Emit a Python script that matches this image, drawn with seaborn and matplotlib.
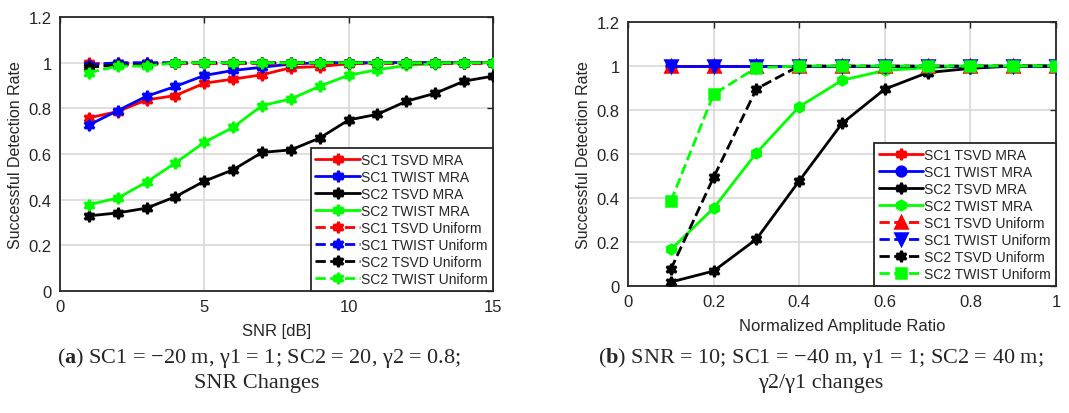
import numpy as np
import pandas as pd
import matplotlib
matplotlib.use("Agg")
import matplotlib.pyplot as plt
import seaborn as sns

sns.set_style("white")
plt.rcParams['font.family'] = ['Liberation Sans', 'DejaVu Sans']
plt.rcParams['mathtext.fontset'] = 'custom'
plt.rcParams['mathtext.rm'] = 'Liberation Serif'
plt.rcParams['mathtext.bf'] = 'Liberation Serif:bold'

# ---------------- Data: panel (a) ----------------
snr_db = [1, 2, 3, 4, 5, 6, 7, 8, 9, 10, 11, 12, 13, 14, 15]
a_sc1_tsvd_mra = [0.758, 0.786, 0.837, 0.856, 0.910, 0.928, 0.947, 0.978, 0.983, 0.995, 1, 1, 1, 1, 1]
a_sc1_twist_mra = [0.727, 0.790, 0.853, 0.896, 0.944, 0.966, 0.980, 0.994, 1, 1, 1, 1, 1, 1, 1]
a_sc2_tsvd_mra = [0.329, 0.342, 0.363, 0.413, 0.481, 0.531, 0.607, 0.618, 0.670, 0.749, 0.774, 0.831, 0.866, 0.919, 0.941]
a_sc2_twist_mra = [0.378, 0.407, 0.477, 0.561, 0.651, 0.717, 0.812, 0.841, 0.897, 0.945, 0.969, 0.988, 0.995, 1, 1]
a_sc1_tsvd_uni = [1.0, 1, 1, 1, 1, 1, 1, 1, 1, 1, 1, 1, 1, 1, 1]
a_sc1_twist_uni = [0.99, 1, 1, 1, 1, 1, 1, 1, 1, 1, 1, 1, 1, 1, 1]
a_sc2_tsvd_uni = [0.98, 0.99, 0.99, 1, 1, 1, 1, 1, 1, 1, 1, 1, 1, 1, 1]
a_sc2_twist_uni = [0.956, 0.985, 0.985, 1, 1, 1, 1, 1, 1, 1, 1, 1, 1, 1, 1]

# ---------------- Data: panel (b) ----------------
amp_ratio = [0.1, 0.2, 0.3, 0.4, 0.5, 0.6, 0.7, 0.8, 0.9, 1.0]
b_sc1_tsvd_mra = [1, 1, 1, 1, 1, 1, 1, 1, 1, 1]
b_sc1_twist_mra = [1, 1, 1, 1, 1, 1, 1, 1, 1, 1]
b_sc2_tsvd_mra = [0.018, 0.068, 0.213, 0.478, 0.739, 0.895, 0.970, 0.989, 1, 1]
b_sc2_twist_mra = [0.166, 0.354, 0.605, 0.815, 0.935, 0.980, 0.992, 1, 1, 1]
b_sc1_tsvd_uni = [1, 1, 1, 1, 1, 1, 1, 1, 1, 1]
b_sc1_twist_uni = [1, 1, 1, 1, 1, 1, 1, 1, 1, 1]
b_sc2_tsvd_uni = [0.076, 0.494, 0.896, 1, 1, 1, 1, 1, 1, 1]
b_sc2_twist_uni = [0.385, 0.872, 0.992, 1, 1, 1, 1, 1, 1, 1]

labels = ["SC1 TSVD MRA", "SC1 TWIST MRA", "SC2 TSVD MRA", "SC2 TWIST MRA",
          "SC1 TSVD Uniform", "SC1 TWIST Uniform", "SC2 TSVD Uniform", "SC2 TWIST Uniform"]

hexagram = (6, 1, 0)
colors = ["#ff0000", "#0000ff", "#000000", "#00ff00"] * 2
styles = ["-"] * 4 + ["--"] * 4
markers_a = [hexagram] * 8
markers_b = [hexagram, "o", hexagram, "h", "^", "v", hexagram, "s"]
msizes_b = [8, 7, 8, 7, 8, 8, 8, 7]

series_a = [a_sc1_tsvd_mra, a_sc1_twist_mra, a_sc2_tsvd_mra, a_sc2_twist_mra,
            a_sc1_tsvd_uni, a_sc1_twist_uni, a_sc2_tsvd_uni, a_sc2_twist_uni]
series_b = [b_sc1_tsvd_mra, b_sc1_twist_mra, b_sc2_tsvd_mra, b_sc2_twist_mra,
            b_sc1_tsvd_uni, b_sc1_twist_uni, b_sc2_tsvd_uni, b_sc2_twist_uni]

fig = plt.figure(figsize=(10.69, 4.14), dpi=100)
ax1 = fig.add_axes([0.0561, 0.2947, 0.405, 0.6618])
ax2 = fig.add_axes([0.5875, 0.3068, 0.4004, 0.6377])

def draw(ax, x, series, markers, msizes):
    for i in range(8):
        df = pd.DataFrame({"x": x, "y": series[i]})
        sns.lineplot(data=df, x="x", y="y", ax=ax, color=colors[i], linestyle=styles[i],
                     marker=markers[i], markersize=msizes[i], markeredgecolor=colors[i],
                     markerfacecolor=colors[i], markeredgewidth=1.8, linewidth=2,
                     label=labels[i], zorder=3)

draw(ax1, snr_db, series_a, markers_a, [8] * 8)
draw(ax2, amp_ratio, series_b, markers_b, msizes_b)

def style(ax, xlim, xticks, xticklabels, xlabel):
    ax.set_xlim(*xlim)
    ax.set_ylim(0, 1.2)
    ax.set_xticks(xticks)
    ax.set_xticklabels(xticklabels)
    yt = [0, 0.2, 0.4, 0.6, 0.8, 1.0, 1.2]
    ax.set_yticks(yt)
    ax.set_yticklabels(["0", "0.2", "0.4", "0.6", "0.8", "1", "1.2"])
    ax.grid(True, color="#d9d9d9", linewidth=1.2)
    ax.set_axisbelow(True)
    for sp in ax.spines.values():
        sp.set_visible(True)
        sp.set_color("#262626")
        sp.set_linewidth(1.3)
    ax.tick_params(direction="in", length=4, width=1, top=True, right=True,
                   labelsize=12, colors="#262626", labelcolor="#262626", pad=6)
    ax.set_xlabel(xlabel, fontsize=12, color="#262626", labelpad=6)
    ax.set_ylabel("Successful Detection Rate", fontsize=11.5, color="#262626", labelpad=4)
    leg = ax.legend(loc="lower right", bbox_to_anchor=(1, 0), borderaxespad=0,
                    fontsize=10, frameon=True, fancybox=False, framealpha=1,
                    edgecolor="#262626", handlelength=3.2, handletextpad=0.1,
                    labelspacing=0.22, borderpad=0.35)
    leg.get_frame().set_linewidth(1.3)

style(ax1, (0, 15), [0, 5, 10, 15], ["0", "5", "10", "15"], "SNR [dB]")
style(ax2, (0, 1), [0, 0.2, 0.4, 0.6, 0.8, 1.0], ["0", "0.2", "0.4", "0.6", "0.8", "1"],
      "Normalized Amplitude Ratio")

serif = ['Liberation Serif', 'DejaVu Serif']
y1 = 1 - 358 / 414
y2 = 1 - 384 / 414
fig.text(259 / 1069, y1, r"($\mathbf{a}$) SC1 = −20 m, γ1 = 1; SC2 = 20, γ2 = 0.8;",
         ha="center", va="center", fontsize=16, family=serif)
fig.text(257 / 1069, y2, "SNR Changes", ha="center", va="center", fontsize=16, family=serif)
fig.text(821 / 1069, y1, r"($\mathbf{b}$) SNR = 10; SC1 = −40 m, γ1 = 1; SC2 = 40 m;",
         ha="center", va="center", fontsize=16, family=serif)
fig.text(821 / 1069, y2, "γ2/γ1 changes", ha="center", va="center", fontsize=16, family=serif)

fig.savefig("out.png", dpi=100)
